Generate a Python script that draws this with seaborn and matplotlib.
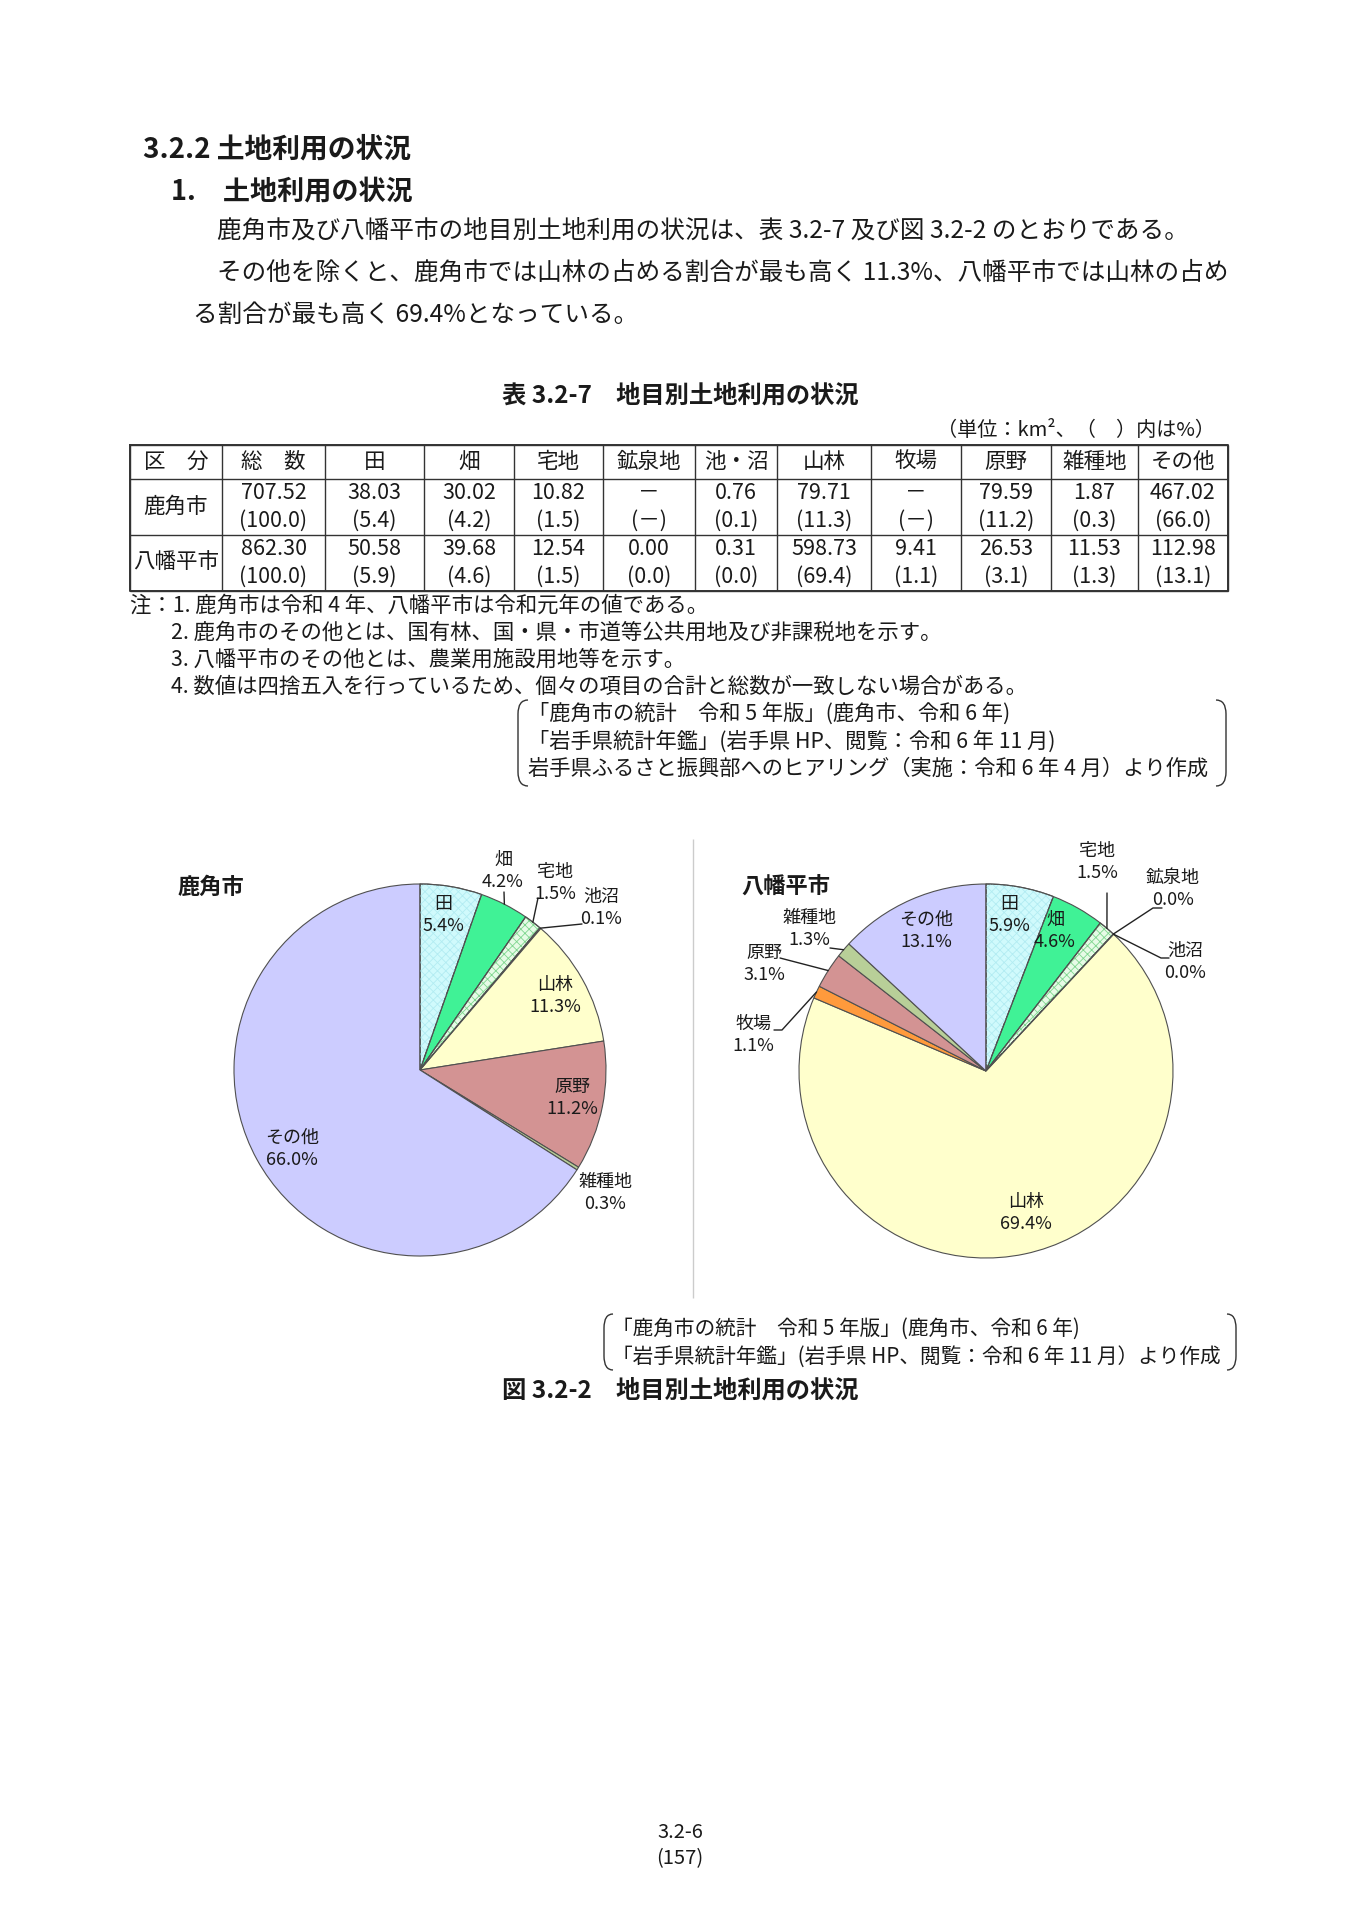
import numpy as np
import matplotlib
matplotlib.use("Agg")
import matplotlib.pyplot as plt
from matplotlib.patches import Wedge, PathPatch
from matplotlib.path import Path
import seaborn as sns

# ---------------------------------------------------------------- data
categories = ["総　数", "田", "畑", "宅地", "鉱泉地", "池・沼", "山林", "牧場", "原野", "雑種地", "その他"]
pie_names = [None, "田", "畑", "宅地", "鉱泉地", "池沼", "山林", "牧場", "原野", "雑種地", "その他"]

kazuno_area = [707.52, 38.03, 30.02, 10.82, None, 0.76, 79.71, None, 79.59, 1.87, 467.02]
kazuno_pct = [100.0, 5.4, 4.2, 1.5, None, 0.1, 11.3, None, 11.2, 0.3, 66.0]
hachi_area = [862.30, 50.58, 39.68, 12.54, 0.00, 0.31, 598.73, 9.41, 26.53, 11.53, 112.98]
hachi_pct = [100.0, 5.9, 4.6, 1.5, 0.0, 0.0, 69.4, 1.1, 3.1, 1.3, 13.1]

cities = ["鹿角市", "八幡平市"]

notes = [
    "注：1. 鹿角市は令和 4 年、八幡平市は令和元年の値である。",
    "2. 鹿角市のその他とは、国有林、国・県・市道等公共用地及び非課税地を示す。",
    "3. 八幡平市のその他とは、農業用施設用地等を示す。",
    "4. 数値は四捨五入を行っているため、個々の項目の合計と総数が一致しない場合がある。",
]
table_sources = [
    "「鹿角市の統計　令和 5 年版」(鹿角市、令和 6 年)",
    "「岩手県統計年鑑」(岩手県 HP、閲覧：令和 6 年 11 月)",
    "岩手県ふるさと振興部へのヒアリング（実施：令和 6 年 4 月）より作成",
]
fig_sources = [
    "「鹿角市の統計　令和 5 年版」(鹿角市、令和 6 年)",
    "「岩手県統計年鑑」(岩手県 HP、閲覧：令和 6 年 11 月）より作成",
]

# colours per land category
cat_colors = {
    "田": "#D0FAFC", "畑": "#40F296", "宅地": "#E6FBE6", "鉱泉地": "#9999FF",
    "池沼": "#B08850", "山林": "#FFFFCC", "牧場": "#FF9A3C", "原野": "#D39393",
    "雑種地": "#B8CF98", "その他": "#CCCCFF",
}
hatches = {"田": ("xxxx", "#B2ECF2"), "宅地": ("xxxx", "#7FD68F")}

# ---------------------------------------------------------------- style
sns.set_theme(style="white")
plt.rcParams["font.family"] = ["Noto Sans CJK JP", "DejaVu Sans"]
plt.rcParams["hatch.linewidth"] = 0.6

W, H = 1358, 1920
fig = plt.figure(figsize=(W / 100, H / 100), dpi=100)
fig.patch.set_facecolor("white")
page = fig.add_axes([0, 0, 1, 1])
page.set_xlim(0, W)
page.set_ylim(H, 0)
page.axis("off")

TXT = "#1a1a1a"

# ---------------------------------------------------------------- headings / body
page.text(143, 149, "3.2.2 土地利用の状況", fontsize=20, fontweight="bold", va="center", color=TXT)
page.text(171, 192, "1.　土地利用の状況", fontsize=19.5, fontweight="bold", va="center", color=TXT)
page.text(217, 231, "鹿角市及び八幡平市の地目別土地利用の状況は、表 3.2-7 及び図 3.2-2 のとおりである。",
          fontsize=17.7, va="center", color=TXT)
page.text(217, 273, "その他を除くと、鹿角市では山林の占める割合が最も高く 11.3%、八幡平市では山林の占め",
          fontsize=17.7, va="center", color=TXT)
page.text(193, 315, "る割合が最も高く 69.4%となっている。", fontsize=17.7, va="center", color=TXT)

# ---------------------------------------------------------------- table
page.text(680, 396, "表 3.2-7　地目別土地利用の状況", fontsize=17.5, fontweight="bold",
          ha="center", va="center", color=TXT)
page.text(1215, 430, "（単位：km²、（　）内は%）", fontsize=14.5, ha="right", va="center", color=TXT)

col_x = [130, 222, 325, 424, 514, 603, 695, 777, 871, 961, 1051, 1138, 1228]
row_y = [445, 479, 535, 591]
page.vlines(col_x, row_y[0], row_y[-1], color="#333333", lw=1.0)
page.hlines(row_y, col_x[0], col_x[-1], color="#333333", lw=1.0)
page.plot([col_x[0], col_x[-1], col_x[-1], col_x[0], col_x[0]],
          [row_y[0], row_y[0], row_y[-1], row_y[-1], row_y[0]], color="#333333", lw=1.4)


def cx_of(i):
    return (col_x[i] + col_x[i + 1]) / 2


page.text(cx_of(0), 462, "区　分", fontsize=15.5, ha="center", va="center", color=TXT)
for i, c in enumerate(categories):
    page.text(cx_of(i + 1), 462, c, fontsize=15.5, ha="center", va="center", color=TXT)

for r, (city, area, pct) in enumerate(zip(cities, [kazuno_area, hachi_area], [kazuno_pct, hachi_pct])):
    top, bot = row_y[r + 1], row_y[r + 2]
    page.text(cx_of(0), (top + bot) / 2, city, fontsize=15.5, ha="center", va="center", color=TXT)
    for i in range(len(categories)):
        a = "－" if area[i] is None else f"{area[i]:.2f}"
        p = "(－)" if pct[i] is None else f"({pct[i]:.1f})"
        page.text(cx_of(i + 1), top + 14, a, fontsize=15.5, ha="center", va="center", color=TXT)
        page.text(cx_of(i + 1), top + 42, p, fontsize=15.5, ha="center", va="center", color=TXT)

note_xy = [(130, 606), (171, 633), (171, 660), (171, 687)]
for (x, y), t in zip(note_xy, notes):
    page.text(x, y, t, fontsize=15.4, va="center", color=TXT)


def bracket(x, y0, y1, d):
    verts = [(x + d, y0), (x, y0), (x, y0 + 14), (x, y1 - 14), (x, y1), (x + d, y1)]
    codes = [Path.MOVETO, Path.CURVE3, Path.CURVE3, Path.LINETO, Path.CURVE3, Path.CURVE3]
    page.add_patch(PathPatch(Path(verts, codes), fill=False, lw=1.0, edgecolor="#333333"))


for y, t in zip([714, 742, 769], table_sources):
    page.text(528, y, t, fontsize=15.3, va="center", color=TXT)
bracket(518, 700, 786, 10)
bracket(1226, 700, 786, -10)

# ---------------------------------------------------------------- pies
page.vlines(693, 839, 1298, color="#cccccc", lw=1.0)

label_pos = [
    {"田": (23, 166), "畑": (83, 210), "宅地": (135, 198), "池沼": (181, 173),
     "山林": (135, 85), "原野": (152, -17), "雑種地": (185, -112), "その他": (-128, -68)},
    {"田": (23, 167), "畑": (69, 151), "宅地": (111, 220), "鉱泉地": (187, 193),
     "池沼": (199, 120), "山林": (40, -131), "牧場": (-233, 47), "原野": (-222, 118),
     "雑種地": (-177, 153), "その他": (-60, 151)},
]
leaders = [
    {"畑": [(84, 178)], "宅地": [(118, 172)], "池沼": [(162, 146)]},
    {"宅地": [(121, 178)], "鉱泉地": [(176, 163), (167, 163)], "池沼": [(183, 113), (175, 113)],
     "雑種地": [(-156, 123)], "原野": [(-206, 113)], "牧場": [(-212, 41), (-204, 41)]},
]
pie_geo = [(420, 1070, 186), (986, 1071, 187)]
title_xy = [(178, 887), (741, 887)]


def draw_pie(k, area, pct):
    cx, cy, r = pie_geo[k]
    S = 268
    ax = fig.add_axes([(cx - S) / W, 1 - (cy + S) / H, 2 * S / W, 2 * S / H])
    keep = [i for i in range(1, len(area)) if area[i] is not None]
    names = [pie_names[i] for i in keep]
    vals = [area[i] for i in keep]
    pal = sns.color_palette([cat_colors[n] for n in names])
    wedges, _ = ax.pie(vals, colors=pal, startangle=90, counterclock=False, radius=r,
                       wedgeprops=dict(edgecolor="#505050", linewidth=0.8))
    ax.set_xlim(-S, S)
    ax.set_ylim(-S, S)
    ax.patch.set_alpha(0)
    for w, n in zip(wedges, names):
        if n in hatches:
            h, hc = hatches[n]
            ax.add_patch(Wedge((0, 0), r, w.theta1, w.theta2, facecolor="none",
                               edgecolor=hc, lw=0, hatch=h, zorder=w.get_zorder() + 0.1))
            ax.add_patch(Wedge((0, 0), r, w.theta1, w.theta2, facecolor="none",
                               edgecolor="#505050", lw=0.8, zorder=w.get_zorder() + 0.2))
    for i, w, n in zip(keep, wedges, names):
        lx, ly = label_pos[k][n]
        ax.text(lx, ly, n, fontsize=13, ha="center", va="center", color=TXT)
        ax.text(lx, ly - 22, f"{pct[i]:.1f}%", fontsize=13, ha="center", va="center", color=TXT)
        if n in leaders[k]:
            mid = np.deg2rad((w.theta1 + w.theta2) / 2)
            pts = leaders[k][n] + [(r * np.cos(mid), r * np.sin(mid))]
            ax.plot([p[0] for p in pts], [p[1] for p in pts], color="#222222", lw=1.0)
    page.text(*title_xy[k], cities[k], fontsize=16, fontweight="bold", va="center", color=TXT)


draw_pie(0, kazuno_area, kazuno_pct)
draw_pie(1, hachi_area, hachi_pct)

for y, t in zip([1329, 1357], fig_sources):
    page.text(612, y, t, fontsize=14.9, va="center", color=TXT)
bracket(604, 1314, 1370, 9)
bracket(1236, 1314, 1370, -9)

page.text(680, 1391, "図 3.2-2　地目別土地利用の状況", fontsize=17.5, fontweight="bold",
          ha="center", va="center", color=TXT)

page.text(680, 1833, "3.2-6", fontsize=14.5, ha="center", va="center", color=TXT)
page.text(680, 1859, "(157)", fontsize=14.5, ha="center", va="center", color=TXT)

fig.savefig("out.png", dpi=100, facecolor="white")
